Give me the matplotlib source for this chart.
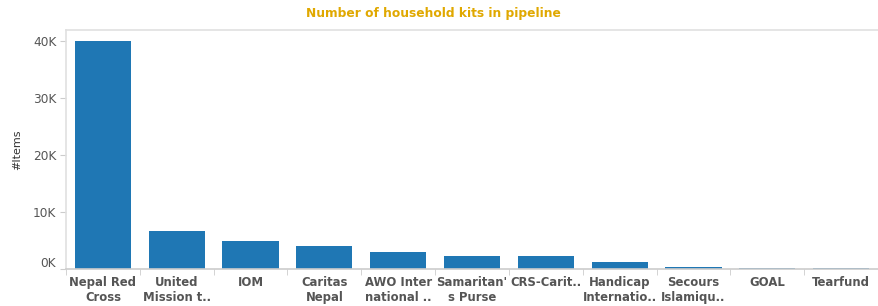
import matplotlib.pyplot as plt
import matplotlib.transforms as mtransforms
import numpy as np

labels = ["Nepal Red\nCross", "United\nMission t..", "IOM", "Caritas\nNepal",
          "AWO Inter\nnational ..", "Samaritan'\ns Purse", "CRS-Carit..",
          "Handicap\nInternatio..", "Secours\nIslamiqu..", "GOAL", "Tearfund"]
items = [40000, 6650, 4900, 4000, 3000, 2300, 2300, 1200, 420, 230, 200]
yticks = [0, 10000, 20000, 30000, 40000]
ytick_labels = ["0K", "10K", "20K", "30K", "40K"]

W, H = 879, 306
fig = plt.figure(figsize=(W / 100, H / 100), dpi=100)
left, right, top, bottom = 66, 878, 30, 269
ax = fig.add_axes([left / W, 1 - bottom / H, (right - left) / W, (bottom - top) / H])

x = np.arange(len(labels))
ax.bar(x, items, width=0.76, color="#1f77b4")
ax.set_xlim(-0.5, len(labels) - 0.5)
ax.set_ylim(0, 40000 * (bottom - top) / (bottom - 41))

ax.set_yticks(yticks)
ax.set_yticklabels(ytick_labels, fontsize=8.7, color="#555555")
ax.tick_params(axis="y", length=4, color="#cccccc", pad=3)
# nudge the 0K label up like the original
lbl0 = ax.get_yticklabels()[0]
lbl0.set_transform(lbl0.get_transform() + mtransforms.ScaledTranslation(0, 7 / 100, fig.dpi_scale_trans))

ax.set_xticks(np.arange(len(labels) + 1) - 0.5, minor=True)
ax.set_xticks(x)
ax.set_xticklabels(labels, fontsize=8.4, fontweight="bold", color="#555555", linespacing=1.25)
ax.tick_params(axis="x", which="major", length=0, pad=5)
ax.tick_params(axis="x", which="minor", length=4, color="#cccccc")

for s in ["left", "top"]:
    ax.spines[s].set_color("#e0e0e0")
    ax.spines[s].set_linewidth(1.2)
ax.spines["right"].set_visible(False)
ax.spines["bottom"].set_color("#cccccc")
ax.spines["bottom"].set_linewidth(1.2)

ax.set_ylabel("#Items", fontsize=8, color="#333333", labelpad=8)

fig.text(433 / W, 1 - 14 / H, "Number of household kits in pipeline", ha="center", va="center",
         fontsize=8.8, fontweight="bold", color="#e0a800")

fig.savefig("out.png", dpi=100)
